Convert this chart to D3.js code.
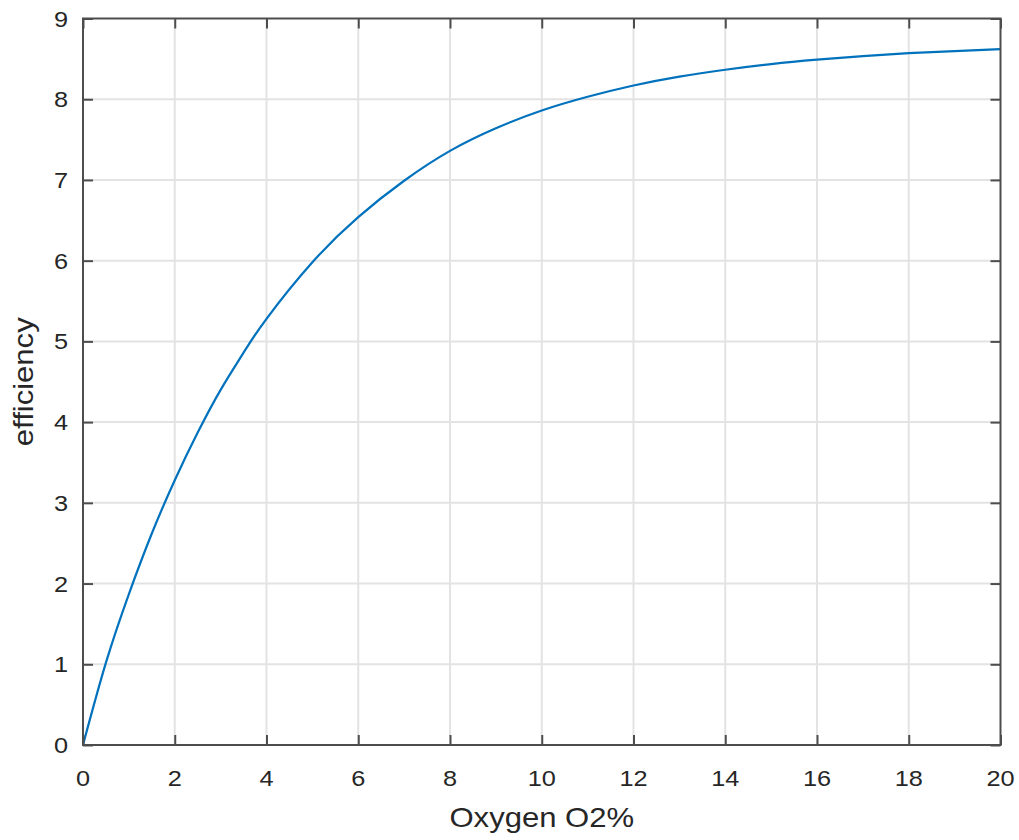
<!DOCTYPE html>
<html>
<head>
<meta charset="utf-8">
<script src="https://cdn.jsdelivr.net/npm/d3@7"></script>
<style>
  html, body { margin: 0; padding: 0; background: #fff; }
  text { font-family: "Liberation Sans", Arial, sans-serif; fill: #262626; }
</style>
</head>
<body>
<div id="chart"></div>
<script>
// data
const oxygen = [0, 0.5, 1, 1.5, 2, 2.5, 3, 3.5, 4, 5, 6, 7, 8, 9, 10, 11, 12, 13, 14, 15, 16, 17, 18, 19, 20];
const efficiency = [0, 1.02, 1.87, 2.62, 3.28, 3.87, 4.4, 4.86, 5.28, 5.98, 6.54, 6.99, 7.36, 7.64, 7.86, 8.03, 8.17, 8.28, 8.365, 8.435, 8.49, 8.535, 8.57, 8.597, 8.62];
const xTicks = [0, 2, 4, 6, 8, 10, 12, 14, 16, 18, 20];
const yTicks = [0, 1, 2, 3, 4, 5, 6, 7, 8, 9];
const xLabel = "Oxygen O2%";
const yLabel = "efficiency";

const W = 1019, H = 840;
const MARGIN = { top: 18.5, right: 18.5, bottom: 95, left: 83 };
const width = W - MARGIN.left - MARGIN.right;
const height = H - MARGIN.top - MARGIN.bottom;
const STRETCH = 1.15; // glyphs in the reference are wider than Liberation Sans
const FRAME = "#4d4d4d";
const TICK = 10;

const svg = d3.select("#chart").append("svg")
  .attr("width", W)
  .attr("height", H);

const g = svg.append("g")
  .attr("transform", "translate(" + MARGIN.left + "," + MARGIN.top + ")");

const x = d3.scaleLinear().domain([0, 20]).range([0, width]);
const y = d3.scaleLinear().domain([0, 9]).range([height, 0]);

// grid
g.append("g")
  .selectAll("line")
  .data(xTicks.slice(1, -1))
  .join("line")
  .attr("x1", (d) => x(d)).attr("x2", (d) => x(d))
  .attr("y1", 0).attr("y2", height)
  .attr("stroke", "#e3e3e3").attr("stroke-width", 2);
g.append("g")
  .selectAll("line")
  .data(yTicks.slice(1, -1))
  .join("line")
  .attr("y1", (d) => y(d)).attr("y2", (d) => y(d))
  .attr("x1", 0).attr("x2", width)
  .attr("stroke", "#e3e3e3").attr("stroke-width", 2);

// curve
const line = d3.line()
  .x((d) => x(d[0]))
  .y((d) => y(d[1]))
  .curve(d3.curveNatural);

g.append("path")
  .datum(oxygen.map((o, i) => [o, efficiency[i]]))
  .attr("fill", "none")
  .attr("stroke", "#0072BD")
  .attr("stroke-width", 2.2)
  .attr("d", line);

// axes with inward ticks on all four sides
function styleAxis(sel) {
  sel.select(".domain").remove();
  sel.selectAll(".tick line").attr("stroke", FRAME).attr("stroke-width", 2);
}

g.append("g")
  .attr("transform", "translate(0," + height + ")")
  .call(d3.axisBottom(x).tickValues(xTicks).tickSize(-TICK).tickFormat(""))
  .call(styleAxis);
g.append("g")
  .call(d3.axisTop(x).tickValues(xTicks).tickSize(-TICK).tickFormat(""))
  .call(styleAxis);
g.append("g")
  .call(d3.axisLeft(y).tickValues(yTicks).tickSize(-TICK).tickFormat(""))
  .call(styleAxis);
g.append("g")
  .attr("transform", "translate(" + width + ",0)")
  .call(d3.axisRight(y).tickValues(yTicks).tickSize(-TICK).tickFormat(""))
  .call(styleAxis);

// frame
g.append("rect")
  .attr("width", width)
  .attr("height", height)
  .attr("fill", "none")
  .attr("stroke", FRAME)
  .attr("stroke-width", 2);

// tick labels
g.append("g")
  .selectAll("g")
  .data(xTicks)
  .join("g")
  .attr("transform", (d) => "translate(" + x(d) + "," + (height + 41) + ") scale(" + STRETCH + ",1)")
  .append("text")
  .attr("text-anchor", "middle")
  .attr("font-size", "22px")
  .text((d) => d);

g.append("g")
  .selectAll("g")
  .data(yTicks)
  .join("g")
  .attr("transform", (d) => "translate(-15," + (y(d) + 8) + ") scale(" + STRETCH + ",1)")
  .append("text")
  .attr("text-anchor", "end")
  .attr("font-size", "22px")
  .text((d) => d);

// axis labels
g.append("g")
  .attr("transform", "translate(" + width / 2 + "," + (height + 82) + ") scale(" + STRETCH + ",1)")
  .append("text")
  .attr("text-anchor", "middle")
  .attr("font-size", "27px")
  .text(xLabel);

g.append("g")
  .attr("transform", "translate(" + (33 - MARGIN.left) + "," + height / 2 + ") rotate(-90) scale(" + STRETCH + ",1)")
  .append("text")
  .attr("text-anchor", "middle")
  .attr("font-size", "27px")
  .text(yLabel);
</script>
</body>
</html>
